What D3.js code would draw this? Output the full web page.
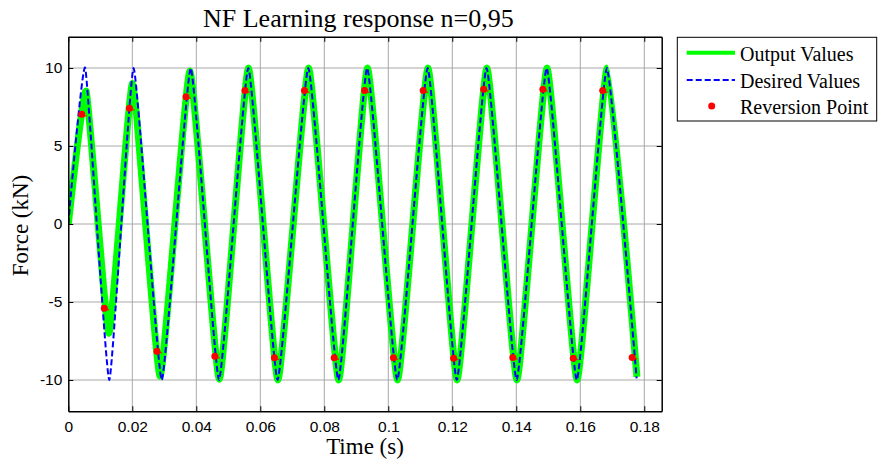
<!DOCTYPE html>
<html lang="en">
<head>
    <meta charset="UTF-8">
    <title>NF Learning response</title>
    <script src="https://cdnjs.cloudflare.com/ajax/libs/d3/7.8.5/d3.min.js"></script>
    <style>
        body { margin: 0; background: #fff; }
        svg { display: block; }
        .tick-label { font-family: "Liberation Sans", Arial, sans-serif; font-size: 15.5px; fill: #000; }
        .serif { font-family: "Liberation Serif", "Times New Roman", serif; fill: #000; }
    </style>
</head>
<body>
    <svg id="chart" width="878" height="463"></svg>

    <script>
        // Desired values: extremes of the reference signal (time in s, force in kN)
        const desiredTime = [0, 0.0053, 0.0128, 0.0204, 0.0292, 0.03825, 0.0471, 0.05625, 0.0654, 0.075, 0.0844,
                             0.0934, 0.1028, 0.1123, 0.1214, 0.1307, 0.1401, 0.1495, 0.1589, 0.1683, 0.1776];
        const desiredForce = [0, 10, -10, 10, -10, 10, -10, 10, -10, 10, -10,
                              10, -10, 10, -10, 10, -10, 10, -10, 10, -9.9];

        // Output values: extremes of the network output
        const outputTime = [0, 0.0056, 0.0127, 0.0201, 0.0287, 0.038, 0.0472, 0.0563, 0.0655, 0.0751, 0.0845,
                            0.0935, 0.1029, 0.1124, 0.1215, 0.1308, 0.1402, 0.1496, 0.159, 0.1684, 0.1777];
        const outputForce = [0, 8.5, -7.0, 9.0, -9.75, 9.8, -9.95, 10, -10, 10, -10,
                             10, -10, 10, -10, 10, -10, 10, -10, 10, -9.8];

        // Reversion points
        const reversionTime = [0.0042, 0.01125, 0.0191, 0.0277, 0.0368, 0.0458, 0.0552, 0.0644, 0.0738, 0.0831,
                               0.0926, 0.1016, 0.1109, 0.1204, 0.1298, 0.1389, 0.1483, 0.1578, 0.167, 0.1762];
        const reversionForce = [7.03, -5.4, 7.42, -8.16, 8.16, -8.48, 8.55, -8.57, 8.55, -8.57,
                                8.55, -8.57, 8.55, -8.6, 8.63, -8.56, 8.63, -8.6, 8.55, -8.55];

        const xTicks = [0, 0.02, 0.04, 0.06, 0.08, 0.1, 0.12, 0.14, 0.16, 0.18];
        const xTickLabels = ["0", "0.02", "0.04", "0.06", "0.08", "0.1", "0.12", "0.14", "0.16", "0.18"];
        const yTicks = [-10, -5, 0, 5, 10];
        const yTickLabels = ["-10", "-5", "0", "5", "10"];

        const legendLabels = ["Output Values", "Desired Values", "Reversion Point"];

        const svg = d3.select("#chart");
        const margin = {left: 68.3, top: 36.8};
        const width = 593.4, height = 374.4;

        const x = d3.scaleLinear().domain([0, 0.18544]).range([margin.left, margin.left + width]);
        const y = d3.scaleLinear().domain([-12, 12]).range([margin.top + height, margin.top]);

        // grid
        const grid = svg.append("g").attr("stroke", "#a8a8a8").attr("stroke-width", 1);
        grid.selectAll(".gx").data(xTicks.slice(1)).enter().append("line")
            .attr("x1", d => x(d)).attr("x2", d => x(d))
            .attr("y1", margin.top).attr("y2", margin.top + height);
        grid.selectAll(".gy").data(yTicks).enter().append("line")
            .attr("y1", d => y(d)).attr("y2", d => y(d))
            .attr("x1", margin.left).attr("x2", margin.left + width);

        svg.append("clipPath").attr("id", "plot-clip").append("rect")
            .attr("x", margin.left).attr("y", margin.top).attr("width", width).attr("height", height);

        const plot = svg.append("g").attr("clip-path", "url(#plot-clip)");
        // cardinal with tension keeps the tips narrow but rounded
        const line = d3.line().x(d => x(d[0])).y(d => y(d[1])).curve(d3.curveCardinal.tension(0.6));

        plot.append("path")
            .datum(d3.zip(outputTime, outputForce))
            .attr("d", line)
            .attr("fill", "none")
            .attr("stroke", "#00ff00")
            .attr("stroke-width", 7)
            .attr("stroke-linejoin", "round");

        plot.append("path")
            .datum(d3.zip(desiredTime, desiredForce))
            .attr("d", line)
            .attr("fill", "none")
            .attr("stroke", "#0000ff")
            .attr("stroke-width", 2)
            .attr("stroke-dasharray", "6,3");

        const rev = plot.selectAll(".rev").data(d3.zip(reversionTime, reversionForce)).enter().append("g");
        rev.append("line")
            .attr("x1", d => x(d[0])).attr("x2", d => x(d[0]) + 5)
            .attr("y1", d => y(d[1]) + 1.5).attr("y2", d => y(d[1]) + 1.5)
            .attr("stroke", "#ff0000").attr("stroke-width", 1);
        rev.append("circle")
            .attr("cx", d => x(d[0])).attr("cy", d => y(d[1]))
            .attr("r", 3.5).attr("fill", "#ff0000");

        // axes box and inward ticks
        const xAxisB = d3.axisBottom(x).tickValues(xTicks).tickSizeInner(-5).tickSizeOuter(0)
            .tickFormat((d, i) => xTickLabels[i]).tickPadding(10);
        const xAxisT = d3.axisTop(x).tickValues(xTicks).tickSizeInner(-5).tickSizeOuter(0).tickFormat("");
        const yAxisL = d3.axisLeft(y).tickValues(yTicks).tickSizeInner(-5).tickSizeOuter(0)
            .tickFormat((d, i) => yTickLabels[i]).tickPadding(6);
        const yAxisR = d3.axisRight(y).tickValues(yTicks).tickSizeInner(-5).tickSizeOuter(0).tickFormat("");

        const gB = svg.append("g").attr("transform", `translate(0,${margin.top + height})`).call(xAxisB);
        const gT = svg.append("g").attr("transform", `translate(0,${margin.top})`).call(xAxisT);
        const gL = svg.append("g").attr("transform", `translate(${margin.left},0)`).call(yAxisL);
        const gR = svg.append("g").attr("transform", `translate(${margin.left + width},0)`).call(yAxisR);
        [gB, gT, gL, gR].forEach(g => {
            g.selectAll("path").attr("stroke", "#000").attr("stroke-width", 1.5);
            g.selectAll("line").attr("stroke", "#000");
            g.selectAll("text").attr("class", "tick-label").attr("font-size", null).attr("font-family", null);
        });

        // labels
        svg.append("text").attr("class", "serif")
            .attr("x", 203).attr("y", 27)
            .attr("font-size", 26)
            .text("NF Learning response n=0,95");
        svg.append("text").attr("class", "serif")
            .attr("x", margin.left + width / 2).attr("y", 454)
            .attr("text-anchor", "middle").attr("font-size", 23)
            .text("Time (s)");
        svg.append("text").attr("class", "serif")
            .attr("transform", "translate(27.5,225.5) rotate(-90)")
            .attr("text-anchor", "middle").attr("font-size", 23)
            .text("Force (kN)");

        // legend
        const lg = svg.append("g").attr("transform", "translate(677.3,37.3)");
        lg.append("rect").attr("width", 199.4).attr("height", 83.7)
            .attr("fill", "#fff").attr("stroke", "#000").attr("stroke-width", 1);
        const rowY = [15.4, 42.7, 68.7];
        lg.append("line").attr("x1", 9.4).attr("x2", 57.7).attr("y1", rowY[0]).attr("y2", rowY[0])
            .attr("stroke", "#00ff00").attr("stroke-width", 4);
        lg.append("line").attr("x1", 9.4).attr("x2", 57.7).attr("y1", rowY[1]).attr("y2", rowY[1])
            .attr("stroke", "#0000ff").attr("stroke-width", 2).attr("stroke-dasharray", "6,3");
        lg.append("circle").attr("cx", 34.4).attr("cy", rowY[2]).attr("r", 3.5).attr("fill", "#ff0000");
        lg.selectAll(".lt").data(legendLabels).enter().append("text")
            .attr("class", "serif").attr("font-size", 20)
            .attr("x", 62.7).attr("y", (d, i) => rowY[i] + 8.5)
            .text(d => d);
    </script>
</body>
</html>
